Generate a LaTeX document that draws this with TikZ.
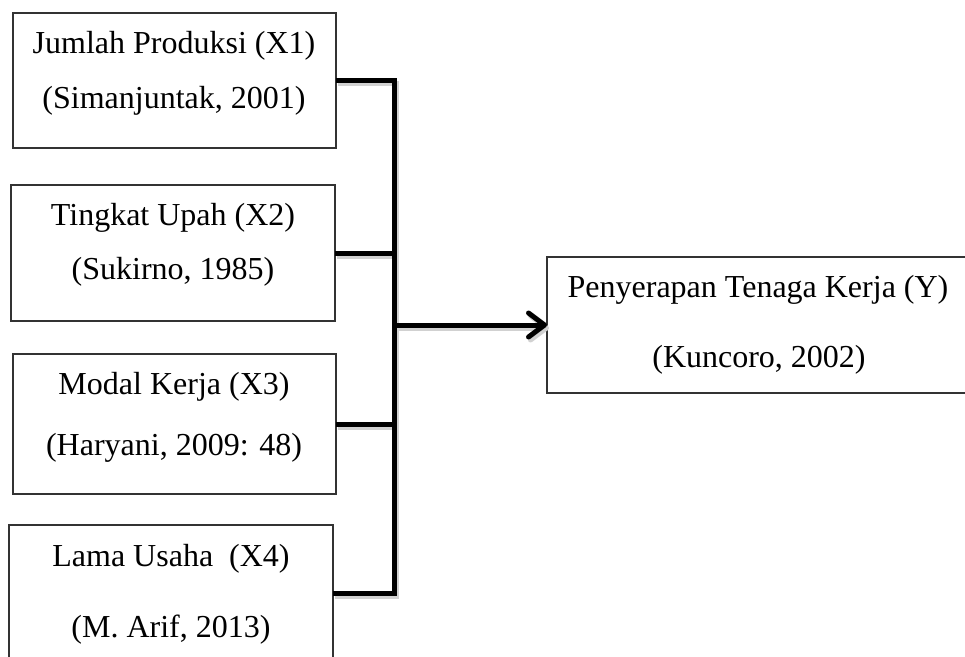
\documentclass[tikz,border=0pt]{standalone}
\usepackage{fontspec}
\setmainfont{Liberation Serif}
\usetikzlibrary{arrows.meta}
\begin{document}
\begin{tikzpicture}[x=1pt,y=-1pt,
  box/.style={draw=black!80,line width=1.2pt,rectangle,inner sep=0pt,outer sep=0pt},
  lbl/.style={anchor=base,inner sep=0pt,outer sep=0pt,font=\fontsize{32}{38}\selectfont},
  conn/.style={line width=5pt,line cap=butt,line join=miter},
  shadowline/.style={conn,draw=black!18,transform canvas={shift={(2pt,-3pt)}}},
  tip/.style={-{Straight Barb[length=16pt,width=24pt,round]}}]
\useasboundingbox (0,0) rectangle (965,656);
\begin{scope}
\clip (0,0) rectangle (965,656);
\node[box,minimum width=323pt,minimum height=135pt] (x1) at (174.5,80.5) {};
\node[box,minimum width=324pt,minimum height=136pt] (x2) at (173,253) {};
\node[box,minimum width=323pt,minimum height=140pt] (x3) at (174.5,424) {};
\node[box,minimum width=324pt,minimum height=136pt] (x4) at (171,593) {};
\node[box,minimum width=438pt,minimum height=136pt] (y) at (766,325) {};
\end{scope}
% labels
\node[lbl] (x1a) at (174,53) {Jumlah Produksi (X1)};
\node[lbl] (x1b) at (174,108) {(Simanjuntak, 2001)};
\node[lbl] (x2a) at (173,225) {Tingkat Upah (X2)};
\node[lbl] (x2b) at (173,279) {(Sukirno, 1985)};
\node[lbl] (x3a) at (174,394) {Modal Kerja (X3)};
\node[lbl] (x3b) at (174,455) {(Haryani, 2009: 48)};
\node[lbl] (x4a) at (171,566) {Lama Usaha~~(X4)};
\node[lbl] (x4b) at (171,637) {(M. Arif, 2013)};
\node[lbl] (ya) at (758,297) {Penyerapan Tenaga Kerja (Y)};
\node[lbl] (yb) at (759,367) {(Kuncoro, 2002)};
% connectors
\coordinate (bus) at (394,80);
\foreach \s in {shadowline,conn}{
  \draw[\s] (x1.east) -- (x1.east -| bus) -- (x4.east -| bus) -- (x4.east);
  \draw[\s] (x2.east) -- (x2.east -| bus);
  \draw[\s] (x3.east) -- (x3.east -| bus);
  \draw[\s,tip] (y.west -| bus) -- (y.west);
}
\end{tikzpicture}
\end{document}
